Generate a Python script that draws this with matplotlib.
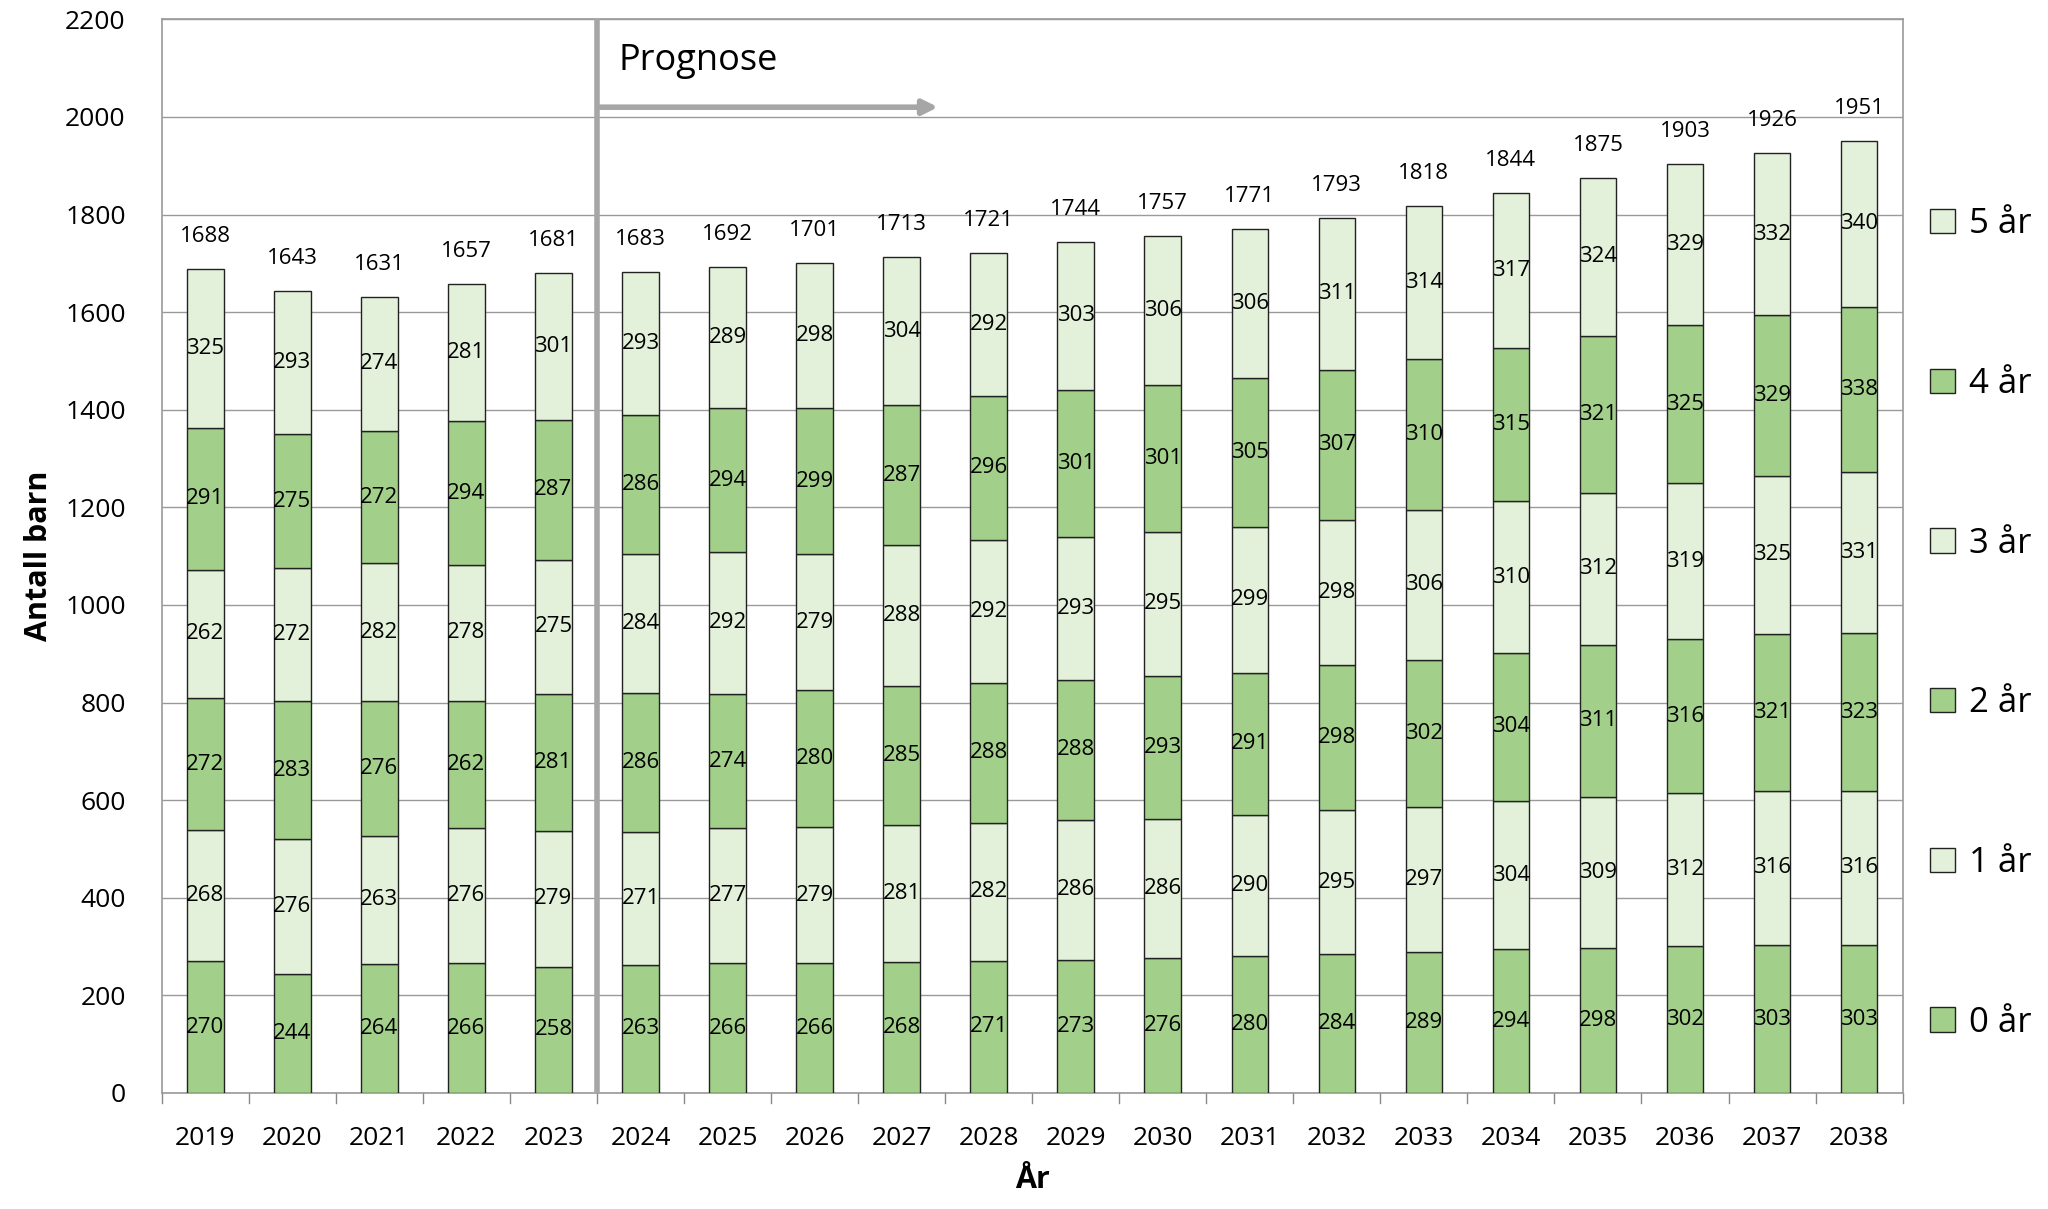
import matplotlib.pyplot as plt
import numpy as np

plt.rcParams['font.family'] = ['Open Sans', 'DejaVu Sans']

years = [str(y) for y in range(2019, 2039)]
age0 = [270, 244, 264, 266, 258, 263, 266, 266, 268, 271, 273, 276, 280, 284, 289, 294, 298, 302, 303, 303]
age1 = [268, 276, 263, 276, 279, 271, 277, 279, 281, 282, 286, 286, 290, 295, 297, 304, 309, 312, 316, 316]
age2 = [272, 283, 276, 262, 281, 286, 274, 280, 285, 288, 288, 293, 291, 298, 302, 304, 311, 316, 321, 323]
age3 = [262, 272, 282, 278, 275, 284, 292, 279, 288, 292, 293, 295, 299, 298, 306, 310, 312, 319, 325, 331]
age4 = [291, 275, 272, 294, 287, 286, 294, 299, 287, 296, 301, 301, 305, 307, 310, 315, 321, 325, 329, 338]
age5 = [325, 293, 274, 281, 301, 293, 289, 298, 304, 292, 303, 306, 306, 311, 314, 317, 324, 329, 332, 340]
totals = [1688, 1643, 1631, 1657, 1681, 1683, 1692, 1701, 1713, 1721, 1744, 1757, 1771, 1793, 1818, 1844, 1875, 1903, 1926, 1951]

series = [('0 år', age0), ('1 år', age1), ('2 år', age2), ('3 år', age3), ('4 år', age4), ('5 år', age5)]
dark = '#a2d08a'
light = '#e3f0da'

fig = plt.figure(figsize=(20.48, 12.09), dpi=100)
ax = fig.add_axes([0.079, 0.096, 0.85, 0.888])
x = np.arange(len(years))
bottom = np.zeros(len(years))
handles = []
for i, (name, vals) in enumerate(series):
    col = dark if i % 2 == 0 else light
    b = ax.bar(x, vals, 0.42, bottom=bottom, color=col, edgecolor='#222222', linewidth=1, label=name, zorder=3)
    handles.append(b)
    for xi, v, bt in zip(x, vals, bottom):
        ax.text(xi, bt + v / 2, str(v), ha='center', va='center', fontsize=16, zorder=4)
    bottom += np.array(vals)
for xi, t in zip(x, totals):
    ax.text(xi, t + 45, str(t), ha='center', va='bottom', fontsize=16)

ax.set_xlim(-0.5, len(years) - 0.5)
ax.set_ylim(0, 2200)
ax.set_yticks(range(0, 2201, 200))
ax.set_xticks(x)
ax.set_xticklabels(years, fontsize=19)
ax.tick_params(axis='y', labelsize=19, length=0, pad=26)
ax.tick_params(axis='x', length=0, pad=24)
for xv in np.arange(-0.5, len(years), 1):
    ax.plot([xv, xv], [0, -20], color='#888888', lw=1, clip_on=False)
ax.grid(axis='y', color='#9a9a9a', lw=1, zorder=0)
for s in ax.spines.values():
    s.set_color('#9a9a9a')
    s.set_linewidth(1.2)
ax.set_ylabel('Antall barn', fontsize=22, fontweight='bold', labelpad=8)
ax.set_xlabel('År', fontsize=22, fontweight='bold', labelpad=10)

ax.plot([4.5, 4.5], [0, 2200], color='#a6a6a6', lw=4, zorder=5)
ax.annotate('', xy=(8.45, 2020), xytext=(4.5, 2020),
            arrowprops=dict(arrowstyle='-|>', color='#a6a6a6', lw=4, mutation_scale=22), zorder=5)
ax.text(4.75, 2115, 'Prognose', fontsize=26, va='center')

ax.legend(handles[::-1], [s[0] for s in series][::-1], loc='upper left',
          bbox_to_anchor=(1.008, 0.838), borderaxespad=0, frameon=False, fontsize=25,
          labelspacing=3.62, handlelength=0.7, handleheight=0.7, handletextpad=0.4)

fig.savefig('out.png', dpi=100)
